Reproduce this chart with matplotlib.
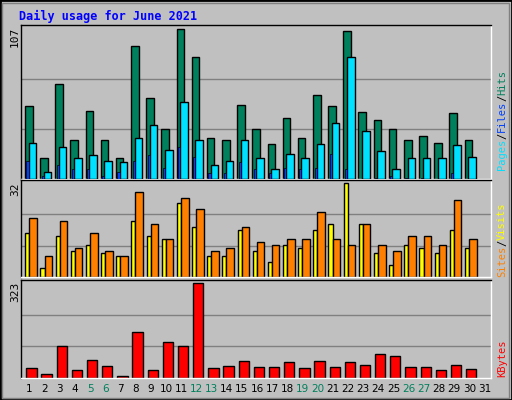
import matplotlib
matplotlib.use("Agg")
import matplotlib.pyplot as plt
from matplotlib.patches import Rectangle
import numpy as np

days = list(range(1, 32))
hits = [52,15,68,28,49,28,15,95,58,36,107,87,29,28,53,36,25,44,29,60,52,106,48,42,36,28,31,26,47,28]
files = [26,5,23,15,17,13,12,29,39,21,55,28,10,13,28,15,7,18,15,25,40,87,34,20,7,15,15,15,24,16]
pages = [13,2,10,7,7,2,5,13,17,8,23,16,4,4,12,7,4,8,7,8,18,7,0,1,2,1,1,0,4,0]
sites = [15,3,14,9,11,8,7,19,14,13,25,17,7,7,16,9,5,11,10,16,18,32,18,8,4,11,10,8,16,10]
visits = [20,7,19,10,15,9,7,29,18,13,27,23,9,10,17,12,11,13,13,22,13,11,18,11,9,14,14,11,26,13]
kbytes = [33,15,107,26,61,40,8,157,26,121,107,323,33,40,58,37,37,54,33,58,37,54,44,83,75,37,37,26,44,29]
weekend = [5,6,12,13,19,20,26,27]

W, H = 512, 400
fig = plt.figure(figsize=(W/100, H/100), dpi=100)
fig.patch.set_facecolor('#C0C0C0')
fig.add_artist(Rectangle((0, 0), 1, 1, transform=fig.transFigure, fill=False, edgecolor='black', lw=2))
fig.add_artist(Rectangle((2/W, 2/H), 1-5/W, 1-5/H, transform=fig.transFigure, fill=False, edgecolor='#808080', lw=1))

def ax_px(l, t, r, b):
    return fig.add_axes([l/W, 1-b/H, (r-l)/W, (b-t)/H])

mono = 'DejaVu Sans Mono'
x = np.arange(len(hits))

def setup(ax, vmax):
    ax.set_facecolor('#C0C0C0')
    ax.set_xlim(0, 31)
    ax.set_ylim(0, vmax*1.03)
    for f in (1/3, 2/3):
        ax.axhline(vmax*f, color='#808080', lw=1, zorder=0)
    ax.set_xticks([]); ax.set_yticks([])
    for s in ax.spines.values():
        s.set_color('black'); s.set_linewidth(1)
    ax.spines['right'].set_color('white'); ax.spines['bottom'].set_color('white')

ax1 = ax_px(21, 25, 491, 179)
setup(ax1, max(hits))
ax1.bar(x+0.26, hits, width=0.5, align='edge', color='#00805C', edgecolor='black', lw=1)
ax1.bar(x+0.36, pages, width=0.14, align='edge', color='#0040FF', edgecolor='black', lw=0.5, zorder=4)
ax1.bar(x+0.5, files, width=0.5, align='edge', color='#00E0FF', edgecolor='black', lw=1, zorder=3)

ax2 = ax_px(21, 180, 491, 277)
setup(ax2, max(sites+visits))
ax2.bar(x+0.28, sites, width=0.27, align='edge', color='#FFFF00', edgecolor='black', lw=1)
ax2.bar(x+0.55, visits, width=0.5, align='edge', color='#FF8000', edgecolor='black', lw=1)

ax3 = ax_px(21, 280, 491, 378)
setup(ax3, max(kbytes))
ax3.bar(x+0.35, kbytes, width=0.68, align='edge', color='#FF0000', edgecolor='black', lw=1)

fig.text(19/W, 1-16/H, 'Daily usage for June 2021', color='#0000FF', fontsize=8.5,
         fontweight='bold', family=mono, va='center', ha='left')

for val, ytop in ((max(hits), 27), (max(sites+visits), 182), (max(kbytes), 282)):
    fig.text(15/W, 1-ytop/H, str(val), rotation=90, fontsize=8, family=mono, ha='center', va='top')

renderer = fig.canvas.get_renderer()

def rlabel(parts, ybot):
    y = ybot
    for txt, col in parts:
        t = fig.text(502/W, 1-y/H, txt, rotation=90, color=col, fontsize=7.5, family=mono,
                     ha='center', va='bottom')
        ext = t.get_window_extent(renderer)
        y -= ext.height

rlabel([('Pages', '#00E0FF'), ('/', '#000000'), ('Files', '#0040FF'), ('/', '#000000'), ('Hits', '#00805C')], 170)
rlabel([('Sites', '#FF8000'), ('/', '#000000'), ('Visits', '#FFFF00')], 277)
rlabel([('KBytes', '#FF0000')], 377)

for d in days:
    fig.text((21 + (d-0.5)*470/31 + 1)/W, 1-389/H, str(d), fontsize=7.5, ha='center', va='center',
             color='#00805C' if d in weekend else 'black')

fig.savefig('out.png', dpi=100, facecolor=fig.get_facecolor())
